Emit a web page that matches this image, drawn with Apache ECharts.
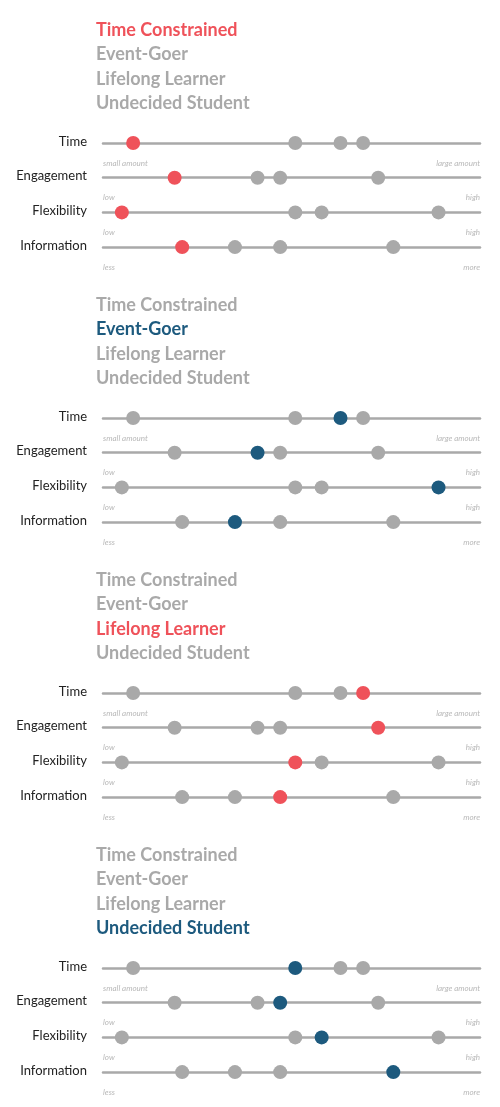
<!DOCTYPE html>
<html>
<head>
<meta charset="utf-8">
<script src="https://cdn.jsdelivr.net/npm/echarts@6/dist/echarts.min.js"></script>
<style>
  html, body { margin: 0; padding: 0; background: #fff; }
  #chart { width: 500px; height: 1107px; }
</style>
</head>
<body>
<div id="chart"></div>
<script>
// 数据
const personas = ['Time Constrained', 'Event-Goer', 'Lifelong Learner', 'Undecided Student'];
const personaColors = ['#ef525a', '#1d5a7e', '#ef525a', '#1d5a7e'];
const dimensions = ['Time', 'Engagement', 'Flexibility', 'Information'];
const lowLabels = ['small amount', 'low', 'low', 'less'];
const highLabels = ['large amount', 'high', 'high', 'more'];
// 每个维度上各 persona 的位置（0-100），顺序同 personas
const timeVals = [8, 63, 69, 51];
const engagementVals = [19, 41, 73, 47];
const flexibilityVals = [5, 89, 51, 58];
const informationVals = [21, 35, 47, 77];
const dimVals = [timeVals, engagementVals, flexibilityVals, informationVals];

const GRAY = '#a9a9a9';
const FONT = 'Lato, "Noto Sans", sans-serif';
const chart = echarts.init(document.getElementById('chart'));

const grids = [], xAxes = [], yAxes = [], series = [], graphics = [];

personas.forEach((p, pi) => {
  const top = pi * 275;
  // 标题列表
  personas.forEach((name, ni) => {
    graphics.push({
      type: 'text', left: 96, top: top + 21 + ni * 24.5,
      style: {
        text: name, fontFamily: FONT, fontSize: 18, fontWeight: 'bold',
        fill: ni === pi ? personaColors[pi] : GRAY
      }
    });
  });
  dimensions.forEach((dim, di) => {
    const y = top + 143 + di * 34.7;
    const idx = grids.length;
    grids.push({ left: 103, width: 377, top: y - 10, height: 20 });
    xAxes.push({
      gridIndex: idx, type: 'value', min: 0, max: 100, interval: 100,
      axisLine: { show: true, onZero: true, lineStyle: { color: GRAY, width: 2.5 } },
      axisTick: { show: false }, splitLine: { show: false },
      axisLabel: {
        margin: 6, fontSize: 8, fontStyle: 'italic', color: '#b8b8b8', fontFamily: FONT,
        alignMinLabel: 'left', alignMaxLabel: 'right',
        formatter: v => v === 0 ? lowLabels[di] : highLabels[di]
      }
    });
    yAxes.push({ gridIndex: idx, type: 'value', min: -1, max: 1, show: false });
    graphics.push({
      type: 'text', right: 413, top: y - 8,
      style: { text: dim, fontFamily: FONT, fontSize: 13, fill: '#222', align: 'right' }
    });
    const vals = dimVals[di];
    series.push({
      type: 'scatter', xAxisIndex: idx, yAxisIndex: idx, symbolSize: 14,
      itemStyle: { color: GRAY, opacity: 1 }, silent: true,
      data: vals.map((v, k) => k === pi ? null : [v, 0]).filter(d => d)
    });
    series.push({
      type: 'scatter', xAxisIndex: idx, yAxisIndex: idx, symbolSize: 14,
      itemStyle: { color: personaColors[pi], opacity: 1 }, silent: true,
      data: [[vals[pi], 0]]
    });
  });
});

chart.setOption({
  animation: false,
  grid: grids, xAxis: xAxes, yAxis: yAxes, series: series,
  graphic: graphics
});
</script>
</body>
</html>
